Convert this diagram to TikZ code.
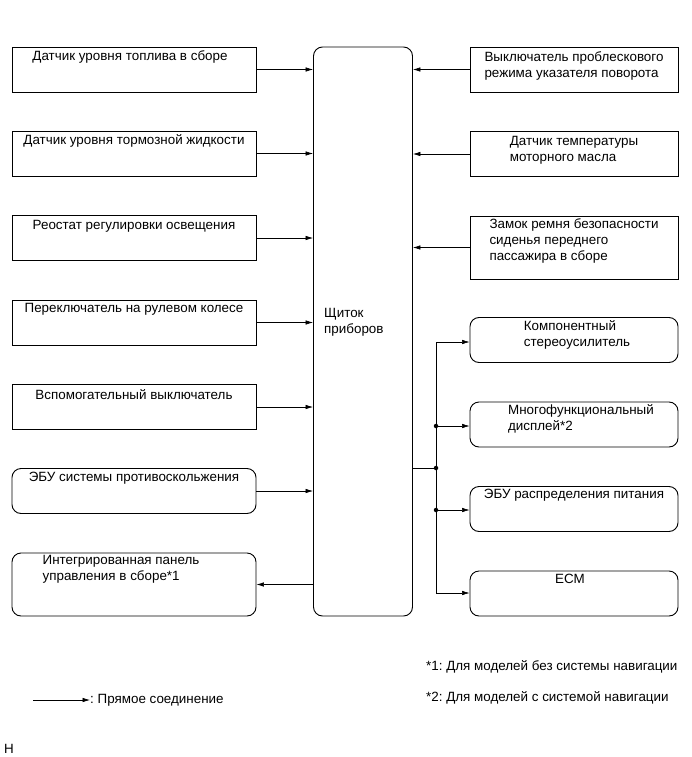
\documentclass[tikz,border=0pt]{standalone}
\usepackage{fontspec}
\setmainfont{Liberation Sans}
\frenchspacing
\usetikzlibrary{arrows.meta}

\begin{document}
\begin{tikzpicture}[x=1pt,y=-1pt,>={Latex[length=7.5pt,width=4.5pt]},
  font=\fontsize{13.4}{16}\selectfont,
  box/.style={draw,line width=0.9pt,minimum width=244pt,minimum height=45pt,inner sep=0pt},
  rbox/.style={box,rounded corners=9pt},
  wbox/.style={draw,line width=0.9pt,minimum width=208pt,minimum height=45pt,inner sep=0pt},
  rwbox/.style={wbox,rounded corners=9pt},
  txt/.style={align=left,inner sep=2pt},
  conn/.style={->,line width=0.6pt},
  dot/.style={circle,fill,inner sep=0pt,minimum size=4.5pt}]
  \useasboundingbox (0,0) rectangle (692,757);
  % central unit
  \node[draw,line width=0.9pt,rounded corners=9pt,minimum width=99pt,minimum height=569pt,inner sep=0pt] (p) at (363,331.5) {};
  \node[txt,anchor=west] (pt) at (322,322) {Щиток\\приборов};
  % inputs on the left
  \node[box] (l1) at (134,69.5) {};
  \node[box] (l2) at (134,153.5) {};
  \node[box] (l3) at (134,238) {};
  \node[box] (l4) at (134,322.5) {};
  \node[box] (l5) at (134,407) {};
  \node[rbox] (l6) at (134,491) {};
  \node[rbox,minimum height=63pt] (l7) at (134,584.5) {};
  \node[txt,anchor=north] at ([xshift=-4pt,yshift=-2pt]l1.north) {Датчик уровня топлива в сборе};
  \node[txt,anchor=north] at ([yshift=-2pt]l2.north) {Датчик уровня тормозной жидкости};
  \node[txt,anchor=north] at ([yshift=-3pt]l3.north) {Реостат регулировки освещения};
  \node[txt,anchor=north] at ([yshift=-2pt]l4.north) {Переключатель на рулевом колесе};
  \node[txt,anchor=north] at ([yshift=-3pt]l5.north) {Вспомогательный выключатель};
  \node[txt,anchor=north] at ([yshift=-2pt]l6.north) {ЭБУ системы противоскольжения};
  \node[txt,anchor=north] at ([xshift=-13pt,yshift=-1pt]l7.north) {Интегрированная панель\\управления в сборе*1};
  % inputs on the right
  \node[wbox] (r1) at (574,69.5) {};
  \node[wbox] (r2) at (574,154) {};
  \node[wbox,minimum height=63pt] (r3) at (574,247.5) {};
  \node[txt,anchor=north] at ([yshift=-3pt]r1.north) {Выключатель проблескового\\режима указателя поворота};
  \node[txt,anchor=north] at ([yshift=-3pt]r2.north) {Датчик температуры\\моторного масла};
  \node[txt,anchor=north] at ([yshift=-1pt]r3.north) {Замок ремня безопасности\\сиденья переднего\\пассажира в сборе};
  % outputs on the right
  \node[rwbox] (r4) at (574,340) {};
  \node[rwbox] (r5) at (574,424.5) {};
  \node[rwbox] (r6) at (574,509) {};
  \node[rwbox] (r7) at (574,593.5) {};
  \node[txt,anchor=north] at ([xshift=3pt,yshift=-1pt]r4.north) {Компонентный\\стереоусилитель};
  \node[txt,anchor=north] at ([xshift=7pt,yshift=-1pt]r5.north) {Многофункциональный\\дисплей*2};
  \node[txt,anchor=north] at ([yshift=-1pt]r6.north) {ЭБУ распределения питания};
  \node[txt,anchor=north] at ([xshift=-4pt,yshift=-1pt]r7.north) {ECM};
  % connections
  \foreach \i in {1,...,6} \draw[conn] (l\i.east) -- (l\i.east -| p.west);
  \draw[conn] (l7.east -| p.west) -- (l7.east);
  \foreach \i in {1,2,3} \draw[conn] (r\i.west) -- (r\i.west -| p.east);
  \coordinate (b0) at (436,468);
  \coordinate (b1) at (436,342);
  \coordinate (b4) at (436,593);
  \node[dot] (d0) at (b0) {};
  \node[dot] (d1) at (436,426) {};
  \node[dot] (d2) at (436,510) {};
  \draw[line width=0.6pt] (b0 -| p.east) -- (b0);
  \draw[line width=0.6pt] (b1) -- (b4);
  \draw[conn] (b1) -- (b1 -| r4.west);
  \draw[conn] (d1.center) -- (d1 -| r5.west);
  \draw[conn] (d2.center) -- (d2 -| r6.west);
  \draw[conn] (b4) -- (b4 -| r7.west);
  % legend and notes
  \coordinate (la) at (33,700);
  \node[anchor=west,inner sep=0pt] (lt) at (90,700) {: Прямое соединение};
  \draw[conn] (la) -- (lt.west);
  \node[anchor=west,inner sep=0pt] (n1) at (426,667) {*1: Для моделей без системы навигации};
  \node[anchor=west,inner sep=0pt] (n2) at (426,698) {*2: Для моделей с системой навигации};
  \node[anchor=base west,inner sep=0pt] (h) at (4,753) {Н};
\end{tikzpicture}
\end{document}
